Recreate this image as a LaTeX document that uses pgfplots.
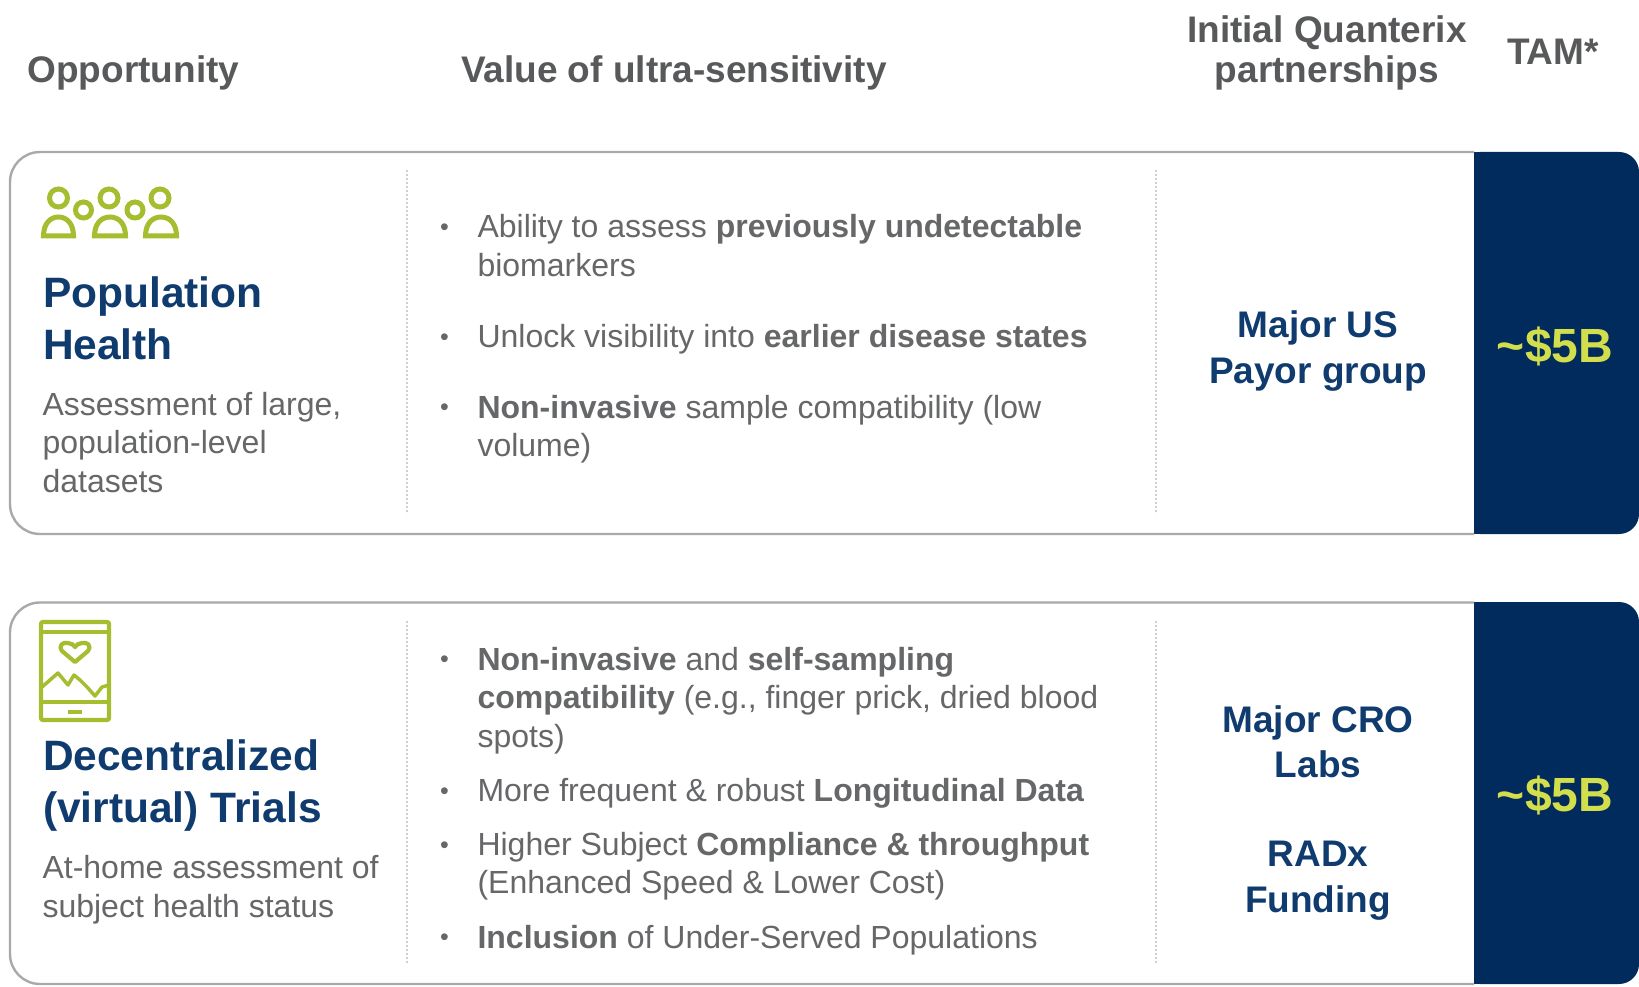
\documentclass[border=0pt]{standalone}
\usepackage{fontspec}
\setmainfont{Liberation Sans}
\usepackage{pgfplots}
\pgfplotsset{compat=1.18}
\definecolor{navy}{HTML}{002B5C}
\definecolor{navytext}{HTML}{0F3B6E}
\definecolor{graytext}{HTML}{666769}
\definecolor{headgray}{HTML}{58595B}
\definecolor{border}{HTML}{A9A9A9}
\definecolor{green}{HTML}{A5BE2F}
\definecolor{yel}{HTML}{D3DE4D}
\definecolor{divid}{HTML}{CFCFCF}
\newcommand{\sz}[1]{\fontsize{#1}{#1}\selectfont}
\begin{document}
\begin{tikzpicture}
\begin{axis}[
  scale only axis, width=1639pt, height=987pt,
  xmin=0, xmax=1639, ymin=0, ymax=987, y dir=reverse,
  hide axis, clip=false,
  every node/.style={inner sep=0pt, outer sep=0pt},
]
\fill[white] (0,0) rectangle (1639,987);
% cards
\fill[navy, rounded corners=20pt] (1460,152) -- (1639,152) -- (1639,534) -- (1460,534) -- cycle;
\fill[navy] (1474,152) rectangle (1500,534);
\fill[white] (1440,150) rectangle (1474,536);
\fill[navy, rounded corners=20pt] (1460,602) -- (1639,602) -- (1639,984) -- (1460,984) -- cycle;
\fill[navy] (1474,602) rectangle (1500,984);
\fill[white] (1440,600) rectangle (1474,986);
\draw[border, line width=2.4pt, rounded corners=30pt] (1474,152) -- (10,152) -- (10,534) -- (1474,534);
\draw[border, line width=2.4pt, rounded corners=30pt] (1474,602.5) -- (10,602.5) -- (10,984) -- (1474,984);
% dividers
\addplot[divid, line width=2pt, dotted, forget plot] coordinates {(407,170) (407,514)};
\addplot[divid, line width=2pt, dotted, forget plot] coordinates {(1156,170) (1156,514)};
\addplot[divid, line width=2pt, dotted, forget plot] coordinates {(407,621) (407,964)};
\addplot[divid, line width=2pt, dotted, forget plot] coordinates {(1156,621) (1156,964)};
% headers
\node[anchor=base west, text=headgray] at (24,83) {\sz{37}\bfseries Opportunity};
\node[anchor=base west, text=headgray] at (457.5,83) {\sz{37}\bfseries Value of ultra-sensitivity};
\node[anchor=base, text=headgray] at (1327,43) {\sz{37}\bfseries Initial Quanterix};
\node[anchor=base, text=headgray] at (1327,83) {\sz{37}\bfseries partnerships};
\node[anchor=base, text=headgray] at (1553,65) {\sz{37}\bfseries TAM*};
% people icon
\begin{scope}[green, line width=5pt]
\draw (58.5,198) circle[radius=9pt];
\draw (109,198) circle[radius=9pt];
\draw (160,198) circle[radius=9pt];
\draw (83.5,210) circle[radius=8pt];
\draw (135,210) circle[radius=8pt];
\draw (43.5,236) .. controls (43.5,224) and (50,217) .. (58.5,217) .. controls (67,217) and (73.5,224) .. (73.5,236) -- cycle;
\draw (94.5,236) .. controls (94.5,224) and (101,217) .. (110,217) .. controls (119,217) and (125.5,224) .. (125.5,236) -- cycle;
\draw (145.5,236) .. controls (145.5,224) and (152,217) .. (161,217) .. controls (170,217) and (176.5,224) .. (176.5,236) -- cycle;
\end{scope}
% phone icon
\begin{scope}[green, line width=4.2pt]
\draw[rounded corners=2pt] (41,622) rectangle (109,720);
\draw (41,632) -- (109,632);
\draw (41,702) -- (109,702);
\draw (68,712) -- (82,712);
\draw[line join=round] (75,662) -- (62,651) .. controls (58,645) and (63,642) .. (68,643) .. controls (71,643) and (74,645) .. (75,647) .. controls (76,645) and (79,643) .. (82,643) .. controls (87,642) and (92,645) .. (88,651) -- cycle;
\end{scope}
\addplot[green, line width=3.5pt, line join=round, forget plot] coordinates {(42,687) (58,673) (68,685) (74,675) (80,680) (87,687) (95,696) (102,687) (109,685)};
% left column
\node[anchor=base west, text=navytext] at (39.5,307) {\sz{42.5}\bfseries Population};
\node[anchor=base west, text=navytext] at (39.5,359) {\sz{42.5}\bfseries Health};
\node[anchor=base west, text=graytext] at (39,415) {\sz{32}Assessment of large,};
\node[anchor=base west, text=graytext] at (39,453) {\sz{32}population-level};
\node[anchor=base west, text=graytext] at (39,492) {\sz{32}datasets};
\node[anchor=base west, text=navytext] at (39.5,770) {\sz{42.5}\bfseries Decentralized};
\node[anchor=base west, text=navytext] at (39.5,822) {\sz{42.5}\bfseries (virtual) Trials};
\node[anchor=base west, text=graytext] at (39,878) {\sz{32}At-home assessment of};
\node[anchor=base west, text=graytext] at (39,917) {\sz{32}subject health status};
% bullets
\node[anchor=base, text=graytext] at (444.5,236) {\sz{25}•};
\node[anchor=base, text=graytext] at (444.5,345) {\sz{25}•};
\node[anchor=base, text=graytext] at (444.5,415) {\sz{25}•};
\node[anchor=base, text=graytext] at (444.5,667) {\sz{25}•};
\node[anchor=base, text=graytext] at (444.5,799) {\sz{25}•};
\node[anchor=base, text=graytext] at (444.5,853) {\sz{25}•};
\node[anchor=base, text=graytext] at (444.5,945) {\sz{25}•};
\node[anchor=base west, text=graytext] at (474,238) {\sz{32}Ability to assess \textbf{previously undetectable}};
\node[anchor=base west, text=graytext] at (474,276.5) {\sz{32}biomarkers};
\node[anchor=base west, text=graytext] at (474,347.5) {\sz{32}Unlock visibility into \textbf{earlier disease states}};
\node[anchor=base west, text=graytext] at (474,418) {\sz{32}\textbf{Non-invasive} sample compatibility (low};
\node[anchor=base west, text=graytext] at (474,456.5) {\sz{32}volume)};
\node[anchor=base west, text=graytext] at (474,670) {\sz{32}\textbf{Non-invasive} and \textbf{self-sampling}};
\node[anchor=base west, text=graytext] at (474,708.5) {\sz{32}\textbf{compatibility} (e.g., finger prick, dried blood};
\node[anchor=base west, text=graytext] at (474,747) {\sz{32}spots)};
\node[anchor=base west, text=graytext] at (474,801.5) {\sz{32}More frequent \& robust \textbf{Longitudinal Data}};
\node[anchor=base west, text=graytext] at (474,855.5) {\sz{32}Higher Subject \textbf{Compliance \& throughput}};
\node[anchor=base west, text=graytext] at (474,893.5) {\sz{32}(Enhanced Speed \& Lower Cost)};
\node[anchor=base west, text=graytext] at (474,948) {\sz{32}\textbf{Inclusion} of Under-Served Populations};
% partnerships
\node[anchor=base, text=navytext] at (1318,337) {\sz{37}\bfseries Major US};
\node[anchor=base, text=navytext] at (1318,383) {\sz{37}\bfseries Payor group};
\node[anchor=base, text=navytext] at (1318,732) {\sz{37}\bfseries Major CRO};
\node[anchor=base, text=navytext] at (1318,777) {\sz{37}\bfseries Labs};
\node[anchor=base, text=navytext] at (1318,866) {\sz{37}\bfseries RADx};
\node[anchor=base, text=navytext] at (1318,912) {\sz{37}\bfseries Funding};
% TAM
\node[anchor=base, text=yel] at (1555,362) {\sz{48}\bfseries\textasciitilde\$5B};
\node[anchor=base, text=yel] at (1555,811) {\sz{48}\bfseries\textasciitilde\$5B};
\end{axis}
\end{tikzpicture}
\end{document}
